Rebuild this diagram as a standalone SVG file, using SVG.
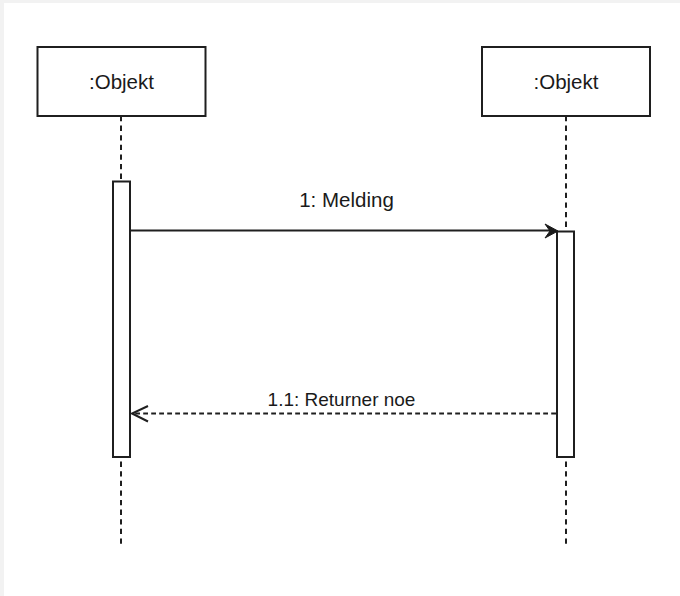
<svg xmlns="http://www.w3.org/2000/svg" width="680" height="596" viewBox="0 0 680 596">
<style>
.box{fill:#ffffff;stroke:#1f1f1f;stroke-width:2}
.life{fill:none;stroke:#1f1f1f;stroke-width:2;stroke-dasharray:5.3 4.3}
.act{fill:#ffffff;stroke:#1f1f1f;stroke-width:2}
.msg{fill:none;stroke:#1f1f1f;stroke-width:2}
.ret{fill:none;stroke:#1f1f1f;stroke-width:2;stroke-dasharray:4.8 3.2}
.lbl{font-family:"Liberation Sans",Arial,sans-serif;fill:#1a1a1a;text-anchor:middle}
</style>
<rect x="0" y="0" width="680" height="596" fill="#f2f2f2"/>
<rect x="4" y="3" width="676" height="593" fill="#ffffff"/>
<g id="obj1">
<line class="life" x1="121" y1="116" x2="121" y2="545"/>
<rect class="box" x="37.5" y="47" width="168" height="69"/>
<text class="lbl" x="121.5" y="89" font-size="20.5">:Objekt</text>
<rect class="act" x="113" y="181.5" width="17" height="275.5"/>
</g>
<g id="obj2">
<line class="life" x1="566" y1="116" x2="566" y2="545"/>
<rect class="box" x="482" y="47" width="168" height="69"/>
<text class="lbl" x="566" y="89" font-size="20.5">:Objekt</text>
<rect class="act" x="557" y="231.5" width="17" height="225.5"/>
</g>
<g id="connectors">
<line class="msg" x1="130" y1="230.5" x2="550" y2="230.5"/>
<path d="M558 231 L545 224 L550 231 L545 238 Z" fill="#1a1a1a" stroke="#1a1a1a" stroke-width="1" stroke-linejoin="miter"/>
<text class="lbl" x="346.5" y="206.5" font-size="20.5">1: Melding</text>
<line class="ret" x1="556" y1="413.5" x2="132" y2="413.5"/>
<path class="msg" d="M148 406 L132 413.5 L148 421.5"/>
<text class="lbl" x="341.5" y="405.5" font-size="19">1.1: Returner noe</text>
</g>
</svg>
